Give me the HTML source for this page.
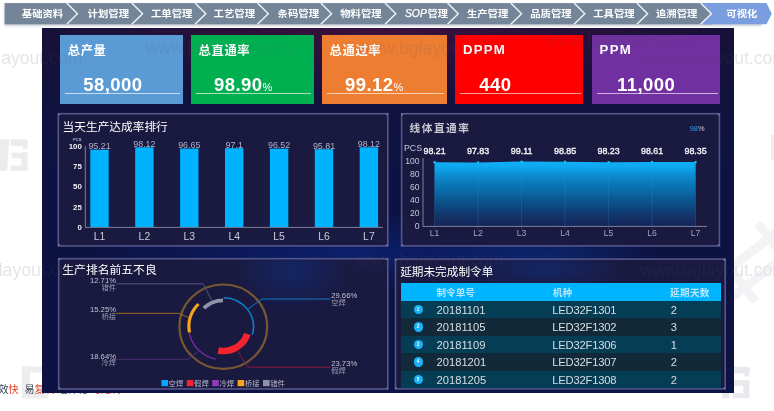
<!DOCTYPE html><html><head><meta charset="utf-8"><title>可视化</title><style>

html,body{margin:0;padding:0;background:#fff;}
body{width:774px;height:411px;overflow:hidden;position:relative;font-family:"Liberation Sans","Noto Sans CJK SC",sans-serif;}
.abs{position:absolute;}
svg{position:absolute;left:0;top:0;overflow:visible;}
svg text{font-family:"Liberation Sans","Noto Sans CJK SC",sans-serif;}
#dash{position:absolute;left:41.7px;top:27.8px;width:692.7px;height:365.5px;overflow:hidden;
 background:
  radial-gradient(ellipse 330px 75px at 50% 0%, rgba(86,16,62,.6), rgba(70,16,64,0) 100%),
  radial-gradient(ellipse 260px 40px at 45% 61.5%, rgba(12,36,125,.7), rgba(10,40,130,0) 100%),
  radial-gradient(ellipse 120px 60px at 72% 66%, rgba(12,50,130,.7), rgba(10,40,130,0) 100%),
  linear-gradient(#17113a 0%, #0c1342 40%, #0c1344 100%);}
.card{position:absolute;top:35.2px;height:69px;color:#fff;}
.card .t{position:absolute;left:7.6px;top:8.6px;font-size:12.3px;font-weight:bold;line-height:14px;letter-spacing:.6px;white-space:nowrap;}
.card .v{position:absolute;top:39.2px;font-size:18.5px;font-weight:bold;line-height:22px;letter-spacing:.45px;white-space:nowrap;}
.card .v small{font-size:11px;font-weight:normal;letter-spacing:0;}
.card .u{position:absolute;left:4.5px;right:2.5px;top:57.7px;height:1px;background:rgba(255,255,255,.64);}
.panel{position:absolute;background:rgba(28,26,62,.93);border:1px solid #5c5b82;box-sizing:border-box;}
.ptitle{position:absolute;color:#fff;font-size:11.5px;line-height:14px;white-space:nowrap;}
.row{position:absolute;left:400.5px;width:320px;height:17.5px;}
.row span{position:absolute;top:.8px;line-height:17.5px;font-size:11.2px;color:#d8dee3;white-space:nowrap;}
.row i{position:absolute;left:13px;top:4.2px;width:9.2px;height:9.2px;border-radius:50%;background:#1cb2fb;}
.hd span{color:#b9e6ff;font-size:9.6px;font-weight:bold;top:1px;}
.row i b{position:absolute;left:0;top:0;width:9.2px;line-height:9.2px;text-align:center;font-size:4.5px;color:#fff;font-style:normal;}

</style></head><body>
<svg width="774" height="411" viewBox="0 0 774 411">
<g fill="#ececef" transform="translate(0 139.2)"><path d="M0 0 L9.3 0 L7.2 31.5 L0 31.5 Z"/><rect x="10.6" y="0" width="16.8" height="6.8" rx="1.5"/><rect x="22.6" y="2" width="4.8" height="7.6"/><rect x="11.7" y="13.4" width="15.7" height="5.7"/><rect x="21.3" y="13.4" width="6.1" height="18"/><rect x="10.6" y="26.4" width="16.8" height="5.1" rx="1.5"/></g>
<g fill="#ededf0"><rect x="22" y="366.5" width="8" height="32"/><rect x="22" y="366.5" width="26" height="6"/><rect x="30" y="392" width="18" height="6.5"/></g>
<g fill="#f3f3f5" transform="translate(757 262) rotate(-38)"><rect x="-52" y="-16" width="104" height="9"/><rect x="-52" y="8" width="104" height="9"/><rect x="-30" y="-30" width="9" height="60"/><rect x="20" y="-30" width="9" height="60"/></g>
<g fill="#e9e9ed" transform="translate(722 366.8)"><path d="M0 0 L9.3 0 L7.2 31.5 L0 31.5 Z"/><rect x="10.6" y="0" width="16.8" height="6.8" rx="1.5"/><rect x="22.6" y="2" width="4.8" height="7.6"/><rect x="11.7" y="13.4" width="15.7" height="5.7"/><rect x="21.3" y="13.4" width="6.1" height="18"/><rect x="10.6" y="26.4" width="16.8" height="5.1" rx="1.5"/></g>
<rect x="771" y="135" width="3" height="24.5" fill="#eeeef1"/>
<g font-size="17.6" fill="#e5e5ea"><text x="-64.3" y="64.2">www.bglayout.com</text><text x="-62.9" y="275.8">www.bglayout.com</text><text x="640.3" y="64.3">www.bglayout.com</text><text x="640.3" y="275.6">www.bglayout.com</text></g>
</svg>
<div class="abs" style="left:-1.5px;top:383.4px;font-size:10.1px;line-height:13px;white-space:nowrap;color:#3a4358;">效<span style="color:#e0452c">快</span><span style="display:inline-block;width:5.8px"></span>易<span style="color:#e0452c">复制</span> 组件化 <span style="color:#e0452c">可定制</span></div>
<svg width="774" height="30" viewBox="0 0 774 30">
<defs><filter id="ns" x="-5%" y="-20%" width="110%" height="160%"><feGaussianBlur stdDeviation="0.8"/></filter></defs>
<rect x="4.5" y="4" width="757" height="22" fill="#c9ced6" filter="url(#ns)"/>
<rect x="4.6" y="3.1" width="708" height="21.2" fill="#748499"/>
<path d="M700.6 3.1 L766.5 3.1 L771.8 13.8 L766.5 24.3 L700.6 24.3 L711.4 13.8 Z" fill="#7a9ddf"/>
<path d="M66.7 3.1 L77.5 13.8 L66.7 24.3" fill="none" stroke="#f2f4f7" stroke-width="1.4"/>
<path d="M131.8 3.1 L142.6 13.8 L131.8 24.3" fill="none" stroke="#f2f4f7" stroke-width="1.4"/>
<path d="M195.0 3.1 L205.8 13.8 L195.0 24.3" fill="none" stroke="#f2f4f7" stroke-width="1.4"/>
<path d="M257.5 3.1 L268.3 13.8 L257.5 24.3" fill="none" stroke="#f2f4f7" stroke-width="1.4"/>
<path d="M320.8 3.1 L331.6 13.8 L320.8 24.3" fill="none" stroke="#f2f4f7" stroke-width="1.4"/>
<path d="M385.0 3.1 L395.8 13.8 L385.0 24.3" fill="none" stroke="#f2f4f7" stroke-width="1.4"/>
<path d="M447.5 3.1 L458.3 13.8 L447.5 24.3" fill="none" stroke="#f2f4f7" stroke-width="1.4"/>
<path d="M510.8 3.1 L521.6 13.8 L510.8 24.3" fill="none" stroke="#f2f4f7" stroke-width="1.4"/>
<path d="M574.0 3.1 L584.8 13.8 L574.0 24.3" fill="none" stroke="#f2f4f7" stroke-width="1.4"/>
<path d="M636.8 3.1 L647.6 13.8 L636.8 24.3" fill="none" stroke="#f2f4f7" stroke-width="1.4"/>
<path d="M700.6 3.1 L711.4 13.8 L700.6 24.3" fill="none" stroke="#f2f4f7" stroke-width="1.4"/>
<text x="21.8" y="17.4" font-size="9.6" font-weight="bold" fill="#fff" textLength="41.4" lengthAdjust="spacingAndGlyphs">基础资料</text>
<text x="87.6" y="17.4" font-size="9.6" font-weight="bold" fill="#fff" textLength="41.4" lengthAdjust="spacingAndGlyphs">计划管理</text>
<text x="151.0" y="17.4" font-size="9.6" font-weight="bold" fill="#fff" textLength="41.4" lengthAdjust="spacingAndGlyphs">工单管理</text>
<text x="213.6" y="17.4" font-size="9.6" font-weight="bold" fill="#fff" textLength="41.4" lengthAdjust="spacingAndGlyphs">工艺管理</text>
<text x="277.6" y="17.4" font-size="9.6" font-weight="bold" fill="#fff" textLength="41.4" lengthAdjust="spacingAndGlyphs">条码管理</text>
<text x="340.2" y="17.4" font-size="9.6" font-weight="bold" fill="#fff" textLength="41.4" lengthAdjust="spacingAndGlyphs">物料管理</text>
<text x="404.9" y="17.4" font-size="10.8" font-style="italic" fill="#fff" stroke="#fff" stroke-width="0.25" textLength="22" lengthAdjust="spacingAndGlyphs">SOP</text>
<text x="427.5" y="17.4" font-size="9.6" font-weight="bold" fill="#fff" textLength="20.3" lengthAdjust="spacingAndGlyphs">管理</text>
<text x="466.9" y="17.4" font-size="9.6" font-weight="bold" fill="#fff" textLength="41.4" lengthAdjust="spacingAndGlyphs">生产管理</text>
<text x="530.2" y="17.4" font-size="9.6" font-weight="bold" fill="#fff" textLength="41.4" lengthAdjust="spacingAndGlyphs">品质管理</text>
<text x="593.2" y="17.4" font-size="9.6" font-weight="bold" fill="#fff" textLength="41.4" lengthAdjust="spacingAndGlyphs">工具管理</text>
<text x="656.0" y="17.4" font-size="9.6" font-weight="bold" fill="#fff" textLength="41.4" lengthAdjust="spacingAndGlyphs">追溯管理</text>
<text x="726.3" y="17.4" font-size="9.6" font-weight="bold" fill="#fff" textLength="31.0" lengthAdjust="spacingAndGlyphs">可视化</text>
</svg>
<div id="dash"></div>
<div class="card" style="left:60.2px;width:122.5px;background:#5b9bd5"><div class="t">总产量</div><div class="v" style="left:23px">58,000</div><div class="u"></div></div>
<div class="card" style="left:191.0px;width:122.5px;background:#00b050"><div class="t">总直通率</div><div class="v" style="left:23px">98.90<small>%</small></div><div class="u"></div></div>
<div class="card" style="left:322.0px;width:124.8px;background:#ed7d31"><div class="t">总通过率</div><div class="v" style="left:23px">99.12<small>%</small></div><div class="u"></div></div>
<div class="card" style="left:455.3px;width:128.0px;background:#ff0000"><div class="t" style="font-size:13.2px;letter-spacing:1.25px;top:8.1px">DPPM</div><div class="v" style="left:24px">440</div><div class="u"></div></div>
<div class="card" style="left:592.0px;width:128.0px;background:#7030a0"><div class="t" style="font-size:13.2px;letter-spacing:1.25px;top:8.1px">PPM</div><div class="v" style="left:25px">11,000</div><div class="u"></div></div>
<svg width="774" height="411" viewBox="0 0 774 411">
<rect x="58.30" y="113.70" width="329.50" height="132.20" fill="#1c1a40" fill-opacity=".91" stroke="#55568a" stroke-width="1.6"/>
<circle cx="59.1" cy="114.5" r=".8" fill="#8a8cb6"/>
<circle cx="387.0" cy="114.5" r=".8" fill="#8a8cb6"/>
<circle cx="59.1" cy="245.1" r=".8" fill="#8a8cb6"/>
<circle cx="387.0" cy="245.1" r=".8" fill="#8a8cb6"/>
<rect x="401.60" y="113.70" width="317.80" height="132.20" fill="#1c1a40" fill-opacity=".91" stroke="#55568a" stroke-width="1.6"/>
<circle cx="402.4" cy="114.5" r=".8" fill="#8a8cb6"/>
<circle cx="718.6" cy="114.5" r=".8" fill="#8a8cb6"/>
<circle cx="402.4" cy="245.1" r=".8" fill="#8a8cb6"/>
<circle cx="718.6" cy="245.1" r=".8" fill="#8a8cb6"/>
<rect x="58.70" y="258.70" width="329.10" height="130.30" fill="#1c1a40" fill-opacity=".91" stroke="#55568a" stroke-width="1.6"/>
<circle cx="59.5" cy="259.5" r=".8" fill="#8a8cb6"/>
<circle cx="387.0" cy="259.5" r=".8" fill="#8a8cb6"/>
<circle cx="59.5" cy="388.2" r=".8" fill="#8a8cb6"/>
<circle cx="387.0" cy="388.2" r=".8" fill="#8a8cb6"/>
<rect x="395.50" y="259.10" width="329.70" height="129.80" fill="#1c1a40" fill-opacity=".91" stroke="#55568a" stroke-width="1.6"/>
<circle cx="396.3" cy="259.9" r=".8" fill="#8a8cb6"/>
<circle cx="724.4" cy="259.9" r=".8" fill="#8a8cb6"/>
<circle cx="396.3" cy="388.1" r=".8" fill="#8a8cb6"/>
<circle cx="724.4" cy="388.1" r=".8" fill="#8a8cb6"/>
<defs><radialGradient id="gl"><stop offset="0" stop-color="#0e2f80" stop-opacity=".55"/><stop offset="1" stop-color="#0e2f80" stop-opacity="0"/></radialGradient><clipPath id="c3"><rect x="59.5" y="259.5" width="327.5" height="128.7"/></clipPath><clipPath id="c4"><rect x="396.3" y="259.9" width="328.1" height="128.2"/></clipPath></defs>
<ellipse cx="292" cy="272" rx="58" ry="40" fill="url(#gl)" clip-path="url(#c3)"/>
<ellipse cx="545" cy="268" rx="80" ry="22" fill="url(#gl)" clip-path="url(#c4)"/>
</svg>
<div class="ptitle" style="left:62.6px;top:119.7px;font-size:11.7px">当天生产达成率排行</div>
<div class="ptitle" style="left:409.5px;top:121px;font-weight:bold;font-size:10.7px;letter-spacing:1.5px;color:#c9c9d4;">线体直通率</div>
<div class="ptitle" style="left:62.3px;top:262.5px;font-size:11.8px">生产排名前五不良</div>
<div class="ptitle" style="left:400.2px;top:264.8px;font-size:11.65px">延期未完成制令单</div>
<svg width="774" height="411" viewBox="0 0 774 411">
<defs><linearGradient id="ag" x1="0" y1="0" x2="0" y2="1"><stop offset="0" stop-color="#0eb0f8"/><stop offset="0.08" stop-color="#0ea8f0"/><stop offset="0.2" stop-color="#0c8fd4"/><stop offset="0.35" stop-color="#0a78b8"/><stop offset="0.5" stop-color="#0a64a0"/><stop offset="0.64" stop-color="#0c5088"/><stop offset="0.78" stop-color="#103c74"/><stop offset="0.92" stop-color="#142c60"/><stop offset="1" stop-color="#16245a"/></linearGradient></defs>
<line x1="85.3" y1="146" x2="85.3" y2="227.4" stroke="#7c7e9a" stroke-width="1"/>
<line x1="85" y1="227.4" x2="383" y2="227.4" stroke="#7c7e9a" stroke-width="1"/>
<text x="77.2" y="141.2" font-size="4" fill="#e8e8f0" text-anchor="middle">PCS</text>
<text x="81.8" y="229.9" font-size="7.9" font-weight="bold" fill="#f0f0f6" text-anchor="end">0</text>
<text x="81.8" y="209.6" font-size="7.9" font-weight="bold" fill="#f0f0f6" text-anchor="end">25</text>
<text x="81.8" y="189.3" font-size="7.9" font-weight="bold" fill="#f0f0f6" text-anchor="end">50</text>
<text x="81.8" y="169.0" font-size="7.9" font-weight="bold" fill="#f0f0f6" text-anchor="end">75</text>
<text x="81.8" y="148.7" font-size="7.9" font-weight="bold" fill="#f0f0f6" text-anchor="end">100</text>
<rect x="90.3" y="149.7" width="18.4" height="77.3" fill="#00b2ff"/>
<text x="99.5" y="149.1" font-size="8.9" fill="#b0b2c4" text-anchor="middle">95.21</text>
<text x="99.5" y="239.6" font-size="10.4" fill="#c9cbd8" text-anchor="middle">L1</text>
<rect x="135.2" y="147.3" width="18.4" height="79.7" fill="#00b2ff"/>
<text x="144.4" y="146.7" font-size="8.9" fill="#b0b2c4" text-anchor="middle">98.12</text>
<text x="144.4" y="239.6" font-size="10.4" fill="#c9cbd8" text-anchor="middle">L2</text>
<rect x="180.1" y="148.5" width="18.4" height="78.5" fill="#00b2ff"/>
<text x="189.3" y="147.9" font-size="8.9" fill="#b0b2c4" text-anchor="middle">96.65</text>
<text x="189.3" y="239.6" font-size="10.4" fill="#c9cbd8" text-anchor="middle">L3</text>
<rect x="225.0" y="148.2" width="18.4" height="78.8" fill="#00b2ff"/>
<text x="234.2" y="147.6" font-size="8.9" fill="#b0b2c4" text-anchor="middle">97.1</text>
<text x="234.2" y="239.6" font-size="10.4" fill="#c9cbd8" text-anchor="middle">L4</text>
<rect x="269.9" y="148.6" width="18.4" height="78.4" fill="#00b2ff"/>
<text x="279.1" y="148.0" font-size="8.9" fill="#b0b2c4" text-anchor="middle">96.52</text>
<text x="279.1" y="239.6" font-size="10.4" fill="#c9cbd8" text-anchor="middle">L5</text>
<rect x="314.8" y="149.2" width="18.4" height="77.8" fill="#00b2ff"/>
<text x="324.0" y="148.6" font-size="8.9" fill="#b0b2c4" text-anchor="middle">95.81</text>
<text x="324.0" y="239.6" font-size="10.4" fill="#c9cbd8" text-anchor="middle">L6</text>
<rect x="359.7" y="147.3" width="18.4" height="79.7" fill="#00b2ff"/>
<text x="368.9" y="146.7" font-size="8.9" fill="#b0b2c4" text-anchor="middle">98.12</text>
<text x="368.9" y="239.6" font-size="10.4" fill="#c9cbd8" text-anchor="middle">L7</text>
<path d="M434.6 226.0 L434.6 162.2 L478.1 162.4 L521.6 161.6 L565.1 161.7 L608.6 162.2 L652.1 161.9 L695.6 162.1 L695.6 226.0 Z" fill="url(#ag)"/>
<line x1="434.6" y1="162.2" x2="434.6" y2="229.0" stroke="#3aa0d8" stroke-width="0.6" stroke-dasharray="1 1" opacity=".7"/>
<circle cx="434.6" cy="162.2" r="1.2" fill="#1cc0ff"/>
<text x="434.6" y="153.8" font-size="8.9" fill="#f4f4f8" stroke="#f4f4f8" stroke-width="0.35" text-anchor="middle">98.21</text>
<line x1="478.1" y1="162.4" x2="478.1" y2="229.0" stroke="#3aa0d8" stroke-width="0.6" stroke-dasharray="1 1" opacity=".7"/>
<circle cx="478.1" cy="162.4" r="1.2" fill="#1cc0ff"/>
<text x="478.1" y="153.8" font-size="8.9" fill="#f4f4f8" stroke="#f4f4f8" stroke-width="0.35" text-anchor="middle">97.83</text>
<line x1="521.6" y1="161.6" x2="521.6" y2="229.0" stroke="#3aa0d8" stroke-width="0.6" stroke-dasharray="1 1" opacity=".7"/>
<circle cx="521.6" cy="161.6" r="1.2" fill="#1cc0ff"/>
<text x="521.6" y="153.8" font-size="8.9" fill="#f4f4f8" stroke="#f4f4f8" stroke-width="0.35" text-anchor="middle">99.11</text>
<line x1="565.1" y1="161.7" x2="565.1" y2="229.0" stroke="#3aa0d8" stroke-width="0.6" stroke-dasharray="1 1" opacity=".7"/>
<circle cx="565.1" cy="161.7" r="1.2" fill="#1cc0ff"/>
<text x="565.1" y="153.8" font-size="8.9" fill="#f4f4f8" stroke="#f4f4f8" stroke-width="0.35" text-anchor="middle">98.85</text>
<line x1="608.6" y1="162.2" x2="608.6" y2="229.0" stroke="#3aa0d8" stroke-width="0.6" stroke-dasharray="1 1" opacity=".7"/>
<circle cx="608.6" cy="162.2" r="1.2" fill="#1cc0ff"/>
<text x="608.6" y="153.8" font-size="8.9" fill="#f4f4f8" stroke="#f4f4f8" stroke-width="0.35" text-anchor="middle">98.23</text>
<line x1="652.1" y1="161.9" x2="652.1" y2="229.0" stroke="#3aa0d8" stroke-width="0.6" stroke-dasharray="1 1" opacity=".7"/>
<circle cx="652.1" cy="161.9" r="1.2" fill="#1cc0ff"/>
<text x="652.1" y="153.8" font-size="8.9" fill="#f4f4f8" stroke="#f4f4f8" stroke-width="0.35" text-anchor="middle">98.61</text>
<line x1="695.6" y1="162.1" x2="695.6" y2="229.0" stroke="#3aa0d8" stroke-width="0.6" stroke-dasharray="1 1" opacity=".7"/>
<circle cx="695.6" cy="162.1" r="1.2" fill="#1cc0ff"/>
<text x="695.6" y="153.8" font-size="8.9" fill="#f4f4f8" stroke="#f4f4f8" stroke-width="0.35" text-anchor="middle">98.35</text>
<text x="434.6" y="236" font-size="8.6" fill="#a3a6bc" text-anchor="middle">L1</text>
<text x="478.1" y="236" font-size="8.6" fill="#a3a6bc" text-anchor="middle">L2</text>
<text x="521.6" y="236" font-size="8.6" fill="#a3a6bc" text-anchor="middle">L3</text>
<text x="565.1" y="236" font-size="8.6" fill="#a3a6bc" text-anchor="middle">L4</text>
<text x="608.6" y="236" font-size="8.6" fill="#a3a6bc" text-anchor="middle">L5</text>
<text x="652.1" y="236" font-size="8.6" fill="#a3a6bc" text-anchor="middle">L6</text>
<text x="695.6" y="236" font-size="8.6" fill="#a3a6bc" text-anchor="middle">L7</text>
<line x1="423" y1="158" x2="423" y2="226.4" stroke="#7f819c" stroke-width="1"/>
<line x1="423" y1="226.4" x2="707" y2="226.4" stroke="#7f819c" stroke-width="1"/>
<text x="404" y="151" font-size="8.8" fill="#c5c8d8">PCS</text>
<text x="419.6" y="228.7" font-size="8.6" fill="#c5c8d8" text-anchor="end">0</text>
<text x="419.6" y="215.7" font-size="8.6" fill="#c5c8d8" text-anchor="end">20</text>
<text x="419.6" y="202.7" font-size="8.6" fill="#c5c8d8" text-anchor="end">40</text>
<text x="419.6" y="189.7" font-size="8.6" fill="#c5c8d8" text-anchor="end">60</text>
<text x="419.6" y="176.7" font-size="8.6" fill="#c5c8d8" text-anchor="end">80</text>
<text x="419.6" y="163.7" font-size="8.6" fill="#c5c8d8" text-anchor="end">100</text>
<text x="689.7" y="130.9" font-size="7.4" fill="#2a9df4">98<tspan fill="#c8c8d4">%</tspan></text>
<g transform="translate(223.3 326.7) scale(1.04 1)">
<circle r="42.2" fill="none" stroke="#755732" stroke-width="2.1"/>
<path d="M0.30 -29.00 A29.00 29.00 0 0 1 27.85 8.08" fill="none" stroke="#0a80c8" stroke-width="1.5"/>
<path d="M23.10 7.23 A24.20 24.20 0 0 1 -4.87 23.71" fill="none" stroke="#f5232d" stroke-width="6.6"/>
<path d="M-7.38 32.47 A33.30 33.30 0 0 1 -32.66 6.52" fill="none" stroke="#8230a8" stroke-width="1.2"/>
<path d="M-32.49 5.78 A33.00 33.00 0 0 1 -23.89 -22.76" fill="none" stroke="#f8a51c" stroke-width="3.0"/>
<path d="M-18.73 -18.60 A26.40 26.40 0 0 1 -0.29 -26.40" fill="none" stroke="#9093a4" stroke-width="3.8"/>
</g>
<path d="M247.8 309.2 L262 299 L330.6 299" fill="none" stroke="#0f7ac4" stroke-width="1"/>
<path d="M237.5 350.5 L247.4 367.2 L330.6 367.2" fill="none" stroke="#8c1a3c" stroke-width="1"/>
<path d="M199.3 350.3 L188.3 359.3 L116 359.3" fill="none" stroke="#4b2f72" stroke-width="1"/>
<path d="M188.3 317.5 L178.6 313.3 L116 313.3" fill="none" stroke="#9a6c22" stroke-width="1"/>
<path d="M211.9 300.5 L203.2 283.8 L116 283.8" fill="none" stroke="#55567c" stroke-width="1"/>
<text x="331.2" y="298.3" font-size="7.7" fill="#c0c2d2" text-anchor="start">29.66%</text>
<text x="331.2" y="305.1" font-size="7.3" fill="#9a9cb0" text-anchor="start">空焊</text>
<text x="331.2" y="366.3" font-size="7.7" fill="#c0c2d2" text-anchor="start">23.73%</text>
<text x="331.2" y="373.1" font-size="7.3" fill="#9a9cb0" text-anchor="start">假焊</text>
<text x="116.0" y="358.5" font-size="7.7" fill="#c0c2d2" text-anchor="end">18.64%</text>
<text x="116.0" y="365.3" font-size="7.3" fill="#9a9cb0" text-anchor="end">冷焊</text>
<text x="116.0" y="312.3" font-size="7.7" fill="#c0c2d2" text-anchor="end">15.25%</text>
<text x="116.0" y="319.1" font-size="7.3" fill="#9a9cb0" text-anchor="end">桥接</text>
<text x="116.0" y="283.0" font-size="7.7" fill="#c0c2d2" text-anchor="end">12.71%</text>
<text x="116.0" y="289.8" font-size="7.3" fill="#9a9cb0" text-anchor="end">错件</text>
<rect x="161.4" y="380" width="6.6" height="6.2" fill="#00a8ff"/>
<text x="168.6" y="386.2" font-size="7.4" fill="#b8bacb">空焊</text>
<rect x="186.8" y="380" width="6.6" height="6.2" fill="#f5232d"/>
<text x="194.0" y="386.2" font-size="7.4" fill="#b8bacb">假焊</text>
<rect x="212.2" y="380" width="6.6" height="6.2" fill="#8e3cb8"/>
<text x="219.4" y="386.2" font-size="7.4" fill="#b8bacb">冷焊</text>
<rect x="237.6" y="380" width="6.6" height="6.2" fill="#f8a51c"/>
<text x="244.8" y="386.2" font-size="7.4" fill="#b8bacb">桥接</text>
<rect x="263.0" y="380" width="6.6" height="6.2" fill="#8f92a2"/>
<text x="270.2" y="386.2" font-size="7.4" fill="#b8bacb">错件</text>
</svg>
<div class="row hd" style="top:283.2px;background:#00b4fe;"><span style="left:36px">制令单号</span><span style="left:152.3px">机种</span><span style="left:269.6px;letter-spacing:.3px">延期天数</span></div>
<div class="row" style="top:300.8px;background:#053d55;"><i><b>1</b></i><span style="left:36px">20181101</span><span style="left:151.8px;letter-spacing:-.2px">LED32F1301</span><span style="left:270.2px">2</span></div>
<div class="row" style="top:318.3px;background:#12293a;"><i><b>2</b></i><span style="left:36px">20181105</span><span style="left:151.8px;letter-spacing:-.2px">LED32F1302</span><span style="left:270.2px">3</span></div>
<div class="row" style="top:335.8px;background:#053d55;"><i><b>3</b></i><span style="left:36px">20181109</span><span style="left:151.8px;letter-spacing:-.2px">LED32F1306</span><span style="left:270.2px">1</span></div>
<div class="row" style="top:353.3px;background:#12293a;"><i><b>4</b></i><span style="left:36px">20181201</span><span style="left:151.8px;letter-spacing:-.2px">LED32F1307</span><span style="left:270.2px">2</span></div>
<div class="row" style="top:370.8px;background:#053d55;"><i><b>5</b></i><span style="left:36px">20181205</span><span style="left:151.8px;letter-spacing:-.2px">LED32F1308</span><span style="left:270.2px">2</span></div>
<svg width="774" height="411" viewBox="0 0 774 411"><defs><clipPath id="dc"><rect x="41.7" y="27.8" width="692.7" height="365.5"/></clipPath></defs><g clip-path="url(#dc)" font-size="17.6" fill="#55556e" fill-opacity=".13">
<text x="-64.3" y="64.2">www.bglayout.com</text>
<text x="145.5" y="54.3">www.bglayout.com</text>
<text x="357.0" y="54.0">www.bglayout.com</text>
<text x="545.0" y="46.0">www.bglayout.com</text>
<text x="640.3" y="64.3">www.bglayout.com</text>
<text x="-62.9" y="275.8">www.bglayout.com</text>
<text x="357.0" y="266.0">www.bglayout.com</text>
<text x="640.3" y="275.6">www.bglayout.com</text>
</g></svg>
</body></html>
